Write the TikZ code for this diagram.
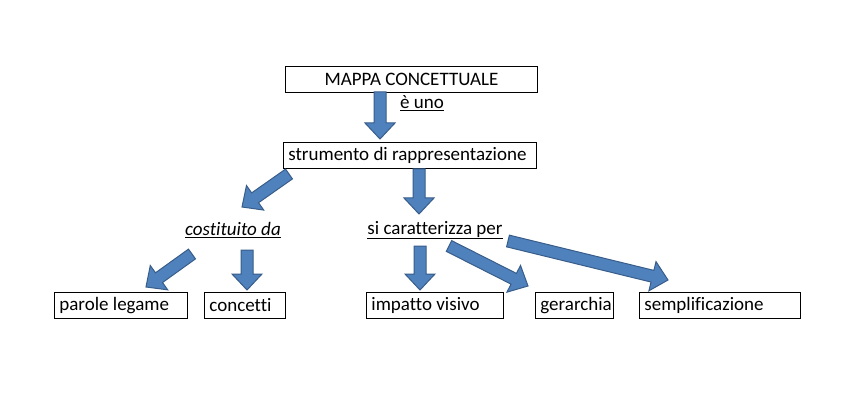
\documentclass[tikz,border=0pt]{standalone}
\usepackage{fontspec}
\setmainfont{Carlito}[Ligatures=NoCommon]
\usetikzlibrary{calc}
\definecolor{afill}{HTML}{4F81BD}
\definecolor{aline}{HTML}{385D8A}
\tikzset{
  box/.style={draw, line width=0.8pt, inner xsep=5pt, inner ysep=0pt, minimum height=26pt, anchor=north west, font=\fontsize{19}{21}\selectfont},
  lbl/.style={inner sep=1pt, font=\fontsize{19}{21}\selectfont},
  barrowstyle/.style={fill=afill, draw=aline, line width=1pt, line join=miter}
}
\newcommand\blockarrow[2]{%
  \coordinate (hb#1#2) at ($(#2)!16pt!(#1)$);
  \draw[barrowstyle] ($(#1)!6pt!90:(#2)$) -- ($(hb#1#2)!6pt!90:(#2)$) -- ($(hb#1#2)!15pt!90:(#2)$) -- (#2) -- ($(hb#1#2)!15pt!-90:(#2)$) -- ($(hb#1#2)!6pt!-90:(#2)$) -- ($(#1)!6pt!-90:(#2)$) -- cycle;}
\begin{document}
\begin{tikzpicture}[x=1pt,y=-1pt]
\useasboundingbox[fill=white] (0,0) rectangle (866,403);
% boxes
\node[box] (mappa) at (285,66) {\makebox[242pt][c]{MAPPA CONCETTUALE}};
\node[box] (strum) at (283,142) {\makebox[243pt][l]{strumento di rappresentazione}};
\node[box] (parole) at (54,292) {\makebox[123pt][l]{parole legame}};
\node[box] (conc) at (204,292) {\makebox[71pt][l]{concetti}};
\node[box] (impatto) at (366,292) {\makebox[127pt][l]{impatto visivo}};
\node[box] (gerar) at (535,292) {\makebox[68pt][l]{gerarchia}};
\node[box] (sempl) at (639,292) {\makebox[151pt][l]{semplificazione}};
% labels
\node[lbl] (euno) at (422,103) {\underline{è uno}};
\node[lbl] (cost) at (233,230) {\underline{\itshape costituito da}};
\node[lbl] (sicar) at (435,230) {\underline{si caratterizza per}};
% arrow end points
\coordinate (a1s) at (380,92);  \coordinate (a1e) at (380,139);
\coordinate (a2s) at (289,174); \coordinate (a2e) at (242,207);
\coordinate (a3s) at (419,169); \coordinate (a3e) at (419,214);
\coordinate (a4s) at (192,254); \coordinate (a4e) at (146,287);
\coordinate (a5s) at (247,250); \coordinate (a5e) at (247,290);
\coordinate (a6s) at (420,246); \coordinate (a6e) at (420,290);
\coordinate (a7s) at (449,246); \coordinate (a7e) at (528,286);
\coordinate (a8s) at (508,241); \coordinate (a8e) at (668,280);
\blockarrow{a1s}{a1e}
\blockarrow{a2s}{a2e}
\blockarrow{a3s}{a3e}
\blockarrow{a4s}{a4e}
\blockarrow{a5s}{a5e}
\blockarrow{a6s}{a6e}
\blockarrow{a7s}{a7e}
\blockarrow{a8s}{a8e}
\end{tikzpicture}
\end{document}
